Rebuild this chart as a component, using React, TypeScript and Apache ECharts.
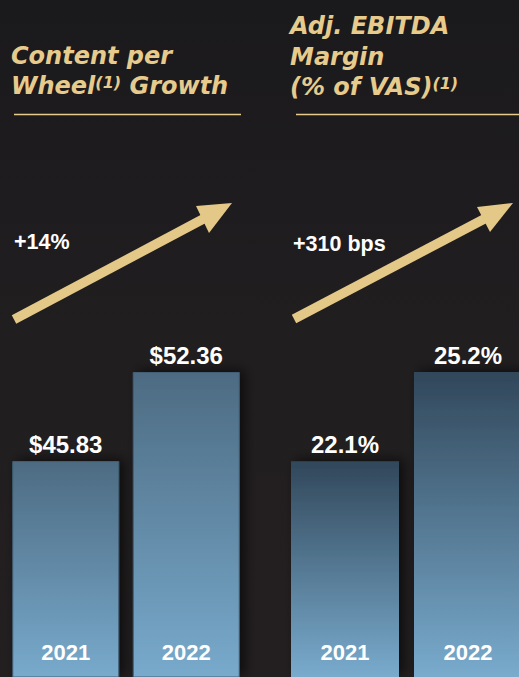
import React, { useEffect, useRef } from "react";
import * as echarts from "echarts";

const years: string[] = ["2021", "2022"];
const contentPerWheel: number[] = [45.83, 52.36];
const ebitdaMargin: number[] = [22.1, 25.2];
const contentLabels: string[] = ["$45.83", "$52.36"];
const marginLabels: string[] = ["22.1%", "25.2%"];
const contentGrowth = "+14%";
const marginGrowth = "+310 bps";

const GOLD = "#E6CB8D";
const ARROW = "#E3C887";
const TITLE_FONT = '"DejaVu Sans", Verdana, sans-serif';
const NUM_FONT = '"Liberation Sans", Arial, Helvetica, sans-serif';

function arrow(x1: number, y1: number, tipX: number, tipY: number, c1: number[], c2: number[]) {
  const mx = (c1[0] + c2[0]) / 2;
  const my = (c1[1] + c2[1]) / 2;
  const dx = tipX - mx;
  const dy = tipY - my;
  const len = Math.sqrt(dx * dx + dy * dy);
  const ex = mx + (dx / len) * 4;
  const ey = my + (dy / len) * 4;
  return [
    {
      type: "line",
      shape: { x1, y1, x2: ex, y2: ey },
      style: { stroke: ARROW, lineWidth: 9.5, lineCap: "butt" },
      silent: true,
    },
    {
      type: "polygon",
      shape: { points: [[tipX, tipY], c1, c2] },
      style: { fill: ARROW },
      silent: true,
    },
  ];
}

function titleLine(text: string, x: number, y: number) {
  return {
    type: "text",
    x,
    y,
    style: {
      text,
      fill: GOLD,
      fontSize: 24,
      fontWeight: "bold",
      fontStyle: "italic",
      fontFamily: TITLE_FONT,
      verticalAlign: "middle",
      rich: {
        a: { fontSize: 24, fontWeight: "bold", fontStyle: "italic", fontFamily: TITLE_FONT, fill: GOLD },
        s: { fontSize: 16, fontWeight: "bold", fontStyle: "italic", fontFamily: TITLE_FONT, fill: GOLD, verticalAlign: "top" },
      },
    },
    silent: true,
  };
}

function plainText(text: string, x: number, y: number) {
  return {
    type: "text",
    x,
    y,
    style: {
      text: `{t|${text}}`,
      fill: "#ffffff",
      verticalAlign: "middle",
      rich: {
        t: { fontSize: 21.5, fontWeight: "bold", fontFamily: NUM_FONT, fill: "#ffffff" },
      },
    },
    silent: true,
  };
}

export default function App() {
  const ref = useRef<HTMLDivElement>(null);

  useEffect(() => {
    document.body.style.margin = "0";
    if (!ref.current) return;
    const chart = echarts.init(ref.current, null, { renderer: "svg" });

    const barGrad = (top: string, bottom: string) =>
      new echarts.graphic.LinearGradient(0, 0, 0, 1, [
        { offset: 0, color: top },
        { offset: 1, color: bottom },
      ]);

    const valueLabel = (labels: string[]) => ({
      show: true,
      position: "top",
      distance: 5,
      color: "#ffffff",
      fontFamily: NUM_FONT,
      fontWeight: "bold",
      fontSize: 24,
      formatter: (p: any) => labels[p.dataIndex],
    });

    const xAxisCommon = {
      type: "category",
      data: years,
      axisLine: { show: false },
      axisTick: { show: false },
      axisLabel: {
        inside: true,
        margin: 14,
        color: "#ffffff",
        fontFamily: NUM_FONT,
        fontWeight: "bold",
        fontSize: 22,
      },
      z: 10,
    };

    const option: any = {
      animation: false,
      backgroundColor: new echarts.graphic.LinearGradient(0, 0, 0, 1, [
        { offset: 0, color: "#1a191c" },
        { offset: 0.5, color: "#211e20" },
        { offset: 1, color: "#231f20" },
      ]),
      grid: [
        { left: 5.5, width: 241, top: 372, bottom: 0 },
        { left: 283.5, width: 246, top: 372, bottom: 0 },
      ],
      xAxis: [
        { ...xAxisCommon, gridIndex: 0 },
        { ...xAxisCommon, gridIndex: 1 },
      ],
      yAxis: [
        { type: "value", gridIndex: 0, min: 30, max: 52.36, show: false, splitLine: { show: false } },
        { type: "value", gridIndex: 1, min: 14.6, max: 25.2, show: false, splitLine: { show: false } },
      ],
      series: [
        {
          type: "bar",
          xAxisIndex: 0,
          yAxisIndex: 0,
          data: contentPerWheel,
          barWidth: 107,
          itemStyle: {
            color: barGrad("#4d6b82", "#78aacc"),
            borderColor: "#425f76",
            borderWidth: 1,
            shadowBlur: 12,
            shadowColor: "rgba(0,0,0,0.6)",
            shadowOffsetX: 5,
            shadowOffsetY: -2,
          },
          label: valueLabel(contentLabels),
        },
        {
          type: "bar",
          xAxisIndex: 1,
          yAxisIndex: 1,
          data: ebitdaMargin,
          barWidth: 108,
          itemStyle: {
            color: barGrad("#31475a", "#79abcd"),
            shadowBlur: 12,
            shadowColor: "rgba(0,0,0,0.6)",
            shadowOffsetX: 5,
            shadowOffsetY: -2,
          },
          label: valueLabel(marginLabels),
        },
      ],
      graphic: [
        titleLine("{a|Content per}", 11, 56),
        titleLine("{a|Wheel}{s|(1)}{a| Growth}", 11, 86),
        titleLine("{a|Adj. EBITDA}", 290, 26),
        titleLine("{a|Margin}", 290, 57),
        titleLine("{a|(% of VAS)}{s|(1)}", 290, 87),
        {
          type: "line",
          shape: { x1: 14, y1: 114.5, x2: 241, y2: 114.5 },
          style: { stroke: GOLD, lineWidth: 1.5 },
          silent: true,
        },
        {
          type: "line",
          shape: { x1: 296, y1: 114.5, x2: 519, y2: 114.5 },
          style: { stroke: GOLD, lineWidth: 1.5 },
          silent: true,
        },
        ...arrow(14, 319.5, 232, 203, [196, 206], [209, 233]),
        ...arrow(294, 319, 513, 203, [477, 207], [490, 232]),
        plainText(contentGrowth, 14, 242),
        plainText(marginGrowth, 293, 244),
      ],
    };

    chart.setOption(option);
    return () => {
      chart.dispose();
    };
  }, []);

  return (
    <div
      style={{
        position: "fixed",
        left: 0,
        top: 0,
        width: 519,
        height: 677,
        overflow: "hidden",
        background: "#1f1c1e",
      }}
    >
      <div ref={ref} style={{ width: 540, height: 677 }} />
    </div>
  );
}
